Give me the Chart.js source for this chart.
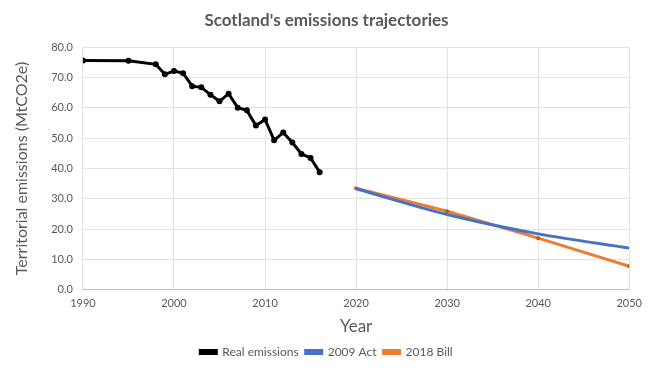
<!DOCTYPE html>
<html>
<head>
<meta charset="utf-8">
<script src="https://cdn.jsdelivr.net/npm/chart.js@4"></script>
<style>
    html, body { margin: 0; padding: 0; background: #fff; }
    #wrap { width: 650px; height: 372px; }
</style>
</head>
<body>
<div id="wrap"><canvas id="emissionsChart"></canvas></div>
<script>
// Datos
const realYears = [1990, 1995, 1998, 1999, 2000, 2001, 2002, 2003, 2004, 2005, 2006, 2007, 2008, 2009, 2010, 2011, 2012, 2013, 2014, 2015, 2016];
const realValues = [75.7, 75.6, 74.4, 71.1, 72.2, 71.5, 67.2, 66.8, 64.4, 62.2, 64.7, 60.1, 59.2, 54.2, 56.2, 49.3, 51.9, 48.6, 44.8, 43.5, 38.8];
const targetYears = [2020, 2030, 2040, 2050];
const act2009 = [33.3, 24.8, 18.4, 13.7];
const bill2018 = [33.5, 25.9, 17.0, 7.7];
const yearTicks = [1990, 2000, 2010, 2020, 2030, 2040, 2050];

const grey = '#595959';
const fontFamily = 'Lato, "Open Sans", sans-serif';

function toPoints(xs, ys) {
    return xs.map(function (x, i) { return {x: x, y: ys[i]}; });
}

var ctx = document.getElementById('emissionsChart').getContext('2d');
var emissionsChart = new Chart(ctx, {
    type: 'line',
    data: {
        datasets: [{
            label: 'Real emissions',
            data: toPoints(realYears, realValues),
            borderColor: '#000000',
            backgroundColor: '#000000',
            borderWidth: 3,
            pointRadius: 3,
            pointBorderWidth: 0,
            pointBackgroundColor: '#000000',
            tension: 0
        }, {
            label: '2009 Act',
            data: toPoints(targetYears, act2009),
            borderColor: '#4472C4',
            backgroundColor: '#4472C4',
            borderWidth: 3,
            pointRadius: 0,
            cubicInterpolationMode: 'monotone'
        }, {
            label: '2018 Bill',
            data: toPoints(targetYears, bill2018),
            borderColor: '#ED7D31',
            backgroundColor: '#ED7D31',
            borderWidth: 3,
            pointRadius: 2,
            pointBorderWidth: 0,
            pointBackgroundColor: '#C55A11',
            tension: 0
        }]
    },
    options: {
        responsive: true,
        maintainAspectRatio: false,
        animation: false,
        layout: {padding: {left: 12, right: 9, top: 4, bottom: 4}},
        plugins: {
            title: {
                display: true,
                text: "Scotland's emissions trajectories",
                color: grey,
                font: {family: fontFamily, size: 17, weight: 'bold'},
                padding: {top: 6, bottom: 17}
            },
            legend: {
                display: true,
                position: 'bottom',
                labels: {
                    color: grey,
                    font: {family: fontFamily, size: 12},
                    boxWidth: 16,
                    boxHeight: 3,
                    padding: 7
                }
            },
            tooltip: {enabled: false}
        },
        scales: {
            x: {
                type: 'linear',
                min: 1990,
                max: 2050,
                afterBuildTicks: function (axis) {
                    axis.ticks = yearTicks.map(function (v) { return {value: v}; });
                },
                ticks: {
                    color: grey,
                    font: {family: fontFamily, size: 11, lineHeight: 1.0},
                    maxRotation: 0,
                    padding: 8,
                    callback: function (v) { return String(v); }
                },
                grid: {color: '#e3e3e3', drawTicks: false},
                border: {display: true, color: '#bfbfbf'},
                title: {
                    display: true,
                    text: 'Year',
                    color: grey,
                    font: {family: fontFamily, size: 17},
                    padding: {top: 0, bottom: 2}
                }
            },
            y: {
                min: 0,
                max: 80,
                ticks: {
                    stepSize: 10,
                    color: grey,
                    font: {family: fontFamily, size: 11},
                    padding: 10,
                    callback: function (v) { return v.toFixed(1); }
                },
                grid: {color: '#e3e3e3', drawTicks: false},
                border: {display: false},
                title: {
                    display: true,
                    text: 'Territorial emissions (MtCO2e)',
                    color: grey,
                    font: {family: fontFamily, size: 16},
                    padding: {top: 0, bottom: 10}
                }
            }
        }
    }
});
</script>
</body>
</html>
